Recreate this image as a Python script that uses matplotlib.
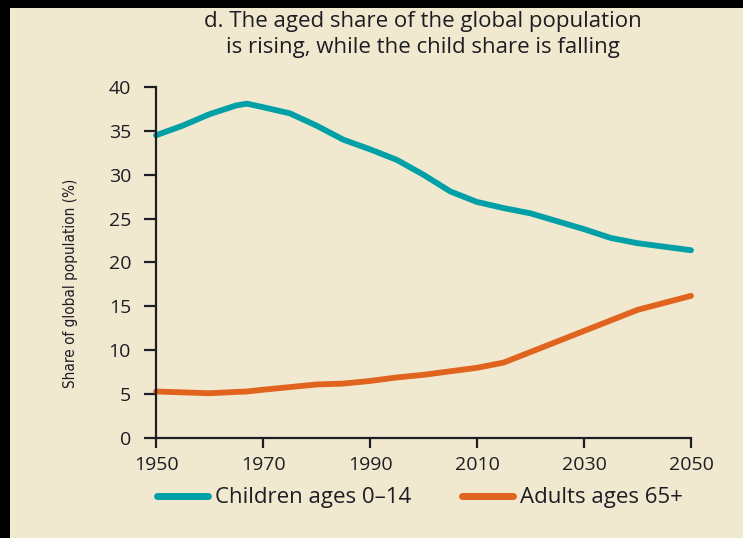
import numpy as np
import matplotlib
matplotlib.use("Agg")
import matplotlib.pyplot as plt
from matplotlib.lines import Line2D
from matplotlib.patches import Rectangle

years = [1950, 1955, 1960, 1965, 1967, 1970, 1975, 1980, 1985, 1990, 1995, 2000,
         2005, 2010, 2015, 2020, 2025, 2030, 2035, 2040, 2045, 2050]
children = [34.5, 35.6, 36.9, 37.9, 38.1, 37.7, 37.0, 35.6, 34.0, 32.9, 31.7, 30.0,
            28.1, 26.9, 26.2, 25.6, 24.7, 23.8, 22.8, 22.2, 21.8, 21.4]
adults = [5.3, 5.2, 5.1, 5.25, 5.3, 5.5, 5.8, 6.1, 6.2, 6.5, 6.9, 7.2,
          7.6, 8.0, 8.6, 9.8, 11.0, 12.2, 13.4, 14.6, 15.4, 16.2]
series_labels = ["Children ages 0\u201314", "Adults ages 65+"]
x_ticks = [1950, 1970, 1990, 2010, 2030, 2050]
y_ticks = [0, 5, 10, 15, 20, 25, 30, 35, 40]

teal = "#00A0A6"
orange = "#E0641E"
cream = "#F1E9CF"
ink = "#1E1C24"

plt.rcParams['font.family'] = ['Open Sans', 'DejaVu Sans']

fig = plt.figure(figsize=(7.43, 5.43), dpi=100)
fig.patch.set_facecolor("black")
# cream panel, black strip left/top, white strip at bottom
fig.patches.append(Rectangle((0, 0), 1, 5 / 543, transform=fig.transFigure,
                             facecolor="white", edgecolor="none", zorder=-2))
fig.patches.append(Rectangle((10 / 743, 5 / 543), 1, (535 - 5) / 543,
                             transform=fig.transFigure, facecolor=cream,
                             edgecolor="none", zorder=-1))

ax = fig.add_axes([156 / 743, 105 / 543, 535 / 743, 351 / 543])
ax.set_facecolor("none")

ax.plot(years, children, color=teal, lw=4.2, solid_capstyle="round",
        solid_joinstyle="round", clip_on=False)
ax.plot(years, adults, color=orange, lw=4.2, solid_capstyle="round",
        solid_joinstyle="round", clip_on=False)

ax.set_xlim(1950, 2050)
ax.set_ylim(0, 40)
ax.set_xticks(x_ticks)
ax.set_yticks(y_ticks)

for s in ["top", "right"]:
    ax.spines[s].set_visible(False)
for s in ["left", "bottom"]:
    ax.spines[s].set_color(ink)
    ax.spines[s].set_linewidth(1.6)

ax.tick_params(axis="y", length=9, width=1.6, color=ink, pad=9,
               labelsize=14, labelcolor=ink)
ax.tick_params(axis="x", length=7, width=1.6, color=ink, pad=6,
               labelsize=14, labelcolor=ink)

ax.set_ylabel("Share of global population (%)", fontsize=11, color=ink,
              family=['DejaVu Sans'], fontstretch='condensed')
ax.yaxis.set_label_coords(-78 / 535, 0.44)

fig.text(423 / 743, 1 - 22 / 543, "d. The aged share of the global population",
         ha="center", va="center", fontsize=16, color=ink)
fig.text(423 / 743, 1 - 47 / 543, "is rising, while the child share is falling",
         ha="center", va="center", fontsize=16, color=ink)

handles = [Line2D([], [], color=teal, lw=5, solid_capstyle="round"),
           Line2D([], [], color=orange, lw=5, solid_capstyle="round")]
fig.legend(handles, series_labels, loc="center", ncol=2,
           bbox_to_anchor=(420 / 743, 1 - 498 / 543), frameon=False,
           fontsize=16, handlelength=2.3, handletextpad=0.3,
           columnspacing=2.3, labelcolor=ink)

fig.savefig("out.png", dpi=100, facecolor=fig.get_facecolor())
